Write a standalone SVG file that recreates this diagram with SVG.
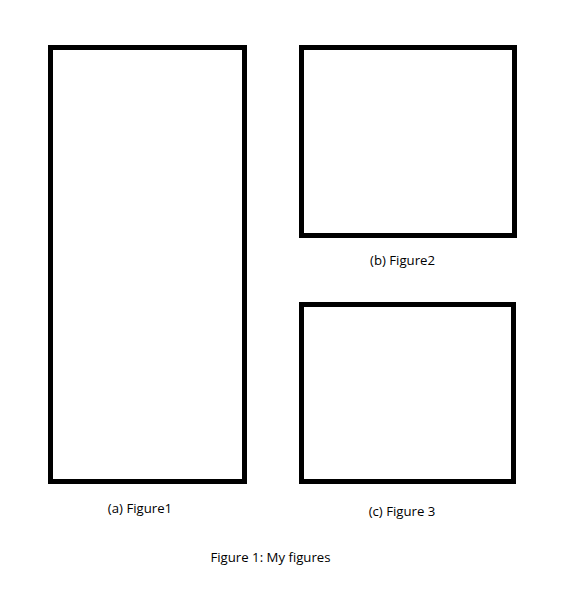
<svg xmlns="http://www.w3.org/2000/svg" width="585" height="612" viewBox="0 0 585 612">
<style>
.box{fill:none;stroke:#000;stroke-width:5}
.lbl{font-family:"Open Sans","Liberation Sans",sans-serif;font-size:13.2px;fill:#000;text-anchor:middle}
</style>
<rect width="585" height="612" fill="#fff"/>
<g id="fig1"><rect class="box" x="50.5" y="47.5" width="194" height="434"/><text class="lbl" x="140" y="513">(a) Figure1</text></g>
<g id="fig2"><rect class="box" x="301.5" y="47.5" width="213" height="188"/><text class="lbl" x="402.5" y="265">(b) Figure2</text></g>
<g id="fig3"><rect class="box" x="301.5" y="304.5" width="212" height="177"/><text class="lbl" x="402" y="516">(c) Figure 3</text></g>
<g id="caption"><text class="lbl" x="270.5" y="562">Figure 1: My figures</text></g>
<g id="connectors"/>
</svg>
